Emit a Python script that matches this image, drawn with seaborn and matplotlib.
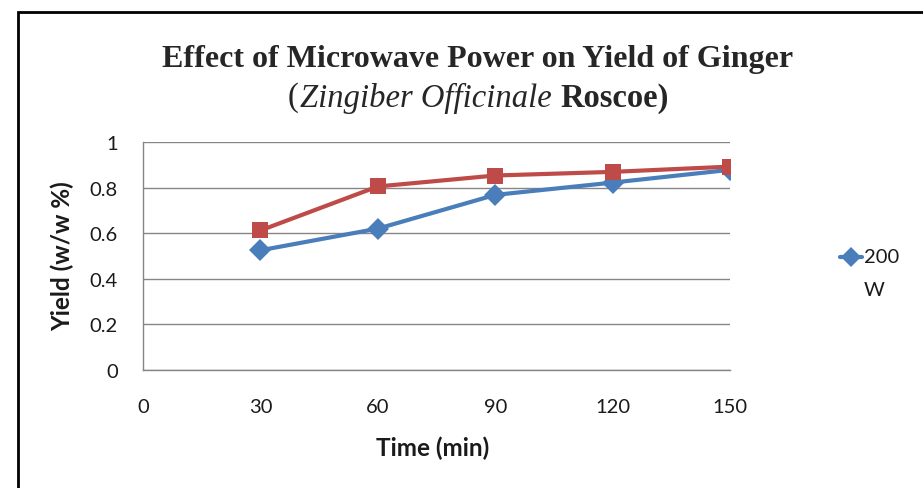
import matplotlib
matplotlib.use("Agg")
import matplotlib.pyplot as plt
import seaborn as sns
import pandas as pd
from matplotlib.patches import Rectangle
from matplotlib.lines import Line2D

# Extraction time (min) and yield (w/w %) for two microwave power levels
time_min = [30, 60, 90, 120, 150]
yield_200w = [0.525, 0.620, 0.768, 0.822, 0.878]
yield_300w = [0.612, 0.805, 0.853, 0.869, 0.892]
series_names = ["200 W", "300 W"]
x_ticks = [0, 30, 60, 90, 120, 150]
y_ticks = [0, 0.2, 0.4, 0.6, 0.8, 1.0]
y_tick_labels = ["0", "0.2", "0.4", "0.6", "0.8", "1"]

df = pd.DataFrame({
    "Time": time_min * 2,
    "Yield": yield_200w + yield_300w,
    "Power": [series_names[0]] * len(time_min) + [series_names[1]] * len(time_min),
})

sns.set_theme(style="white")
plt.rcParams["font.family"] = ["Lato", "DejaVu Sans"]

W, H = 923, 489
fig = plt.figure(figsize=(W / 100, H / 100), dpi=100)
ax = fig.add_axes([143 / W, 1 - 371 / H, (730 - 143) / W, (371 - 143) / H])

blue = "#4A7EBB"
red = "#BE4B48"
sns.lineplot(data=df, x="Time", y="Yield", hue="Power", style="Power",
             palette=[blue, red], markers=["D", "s"], dashes=False,
             markersize=11, linewidth=3, markeredgewidth=0, ax=ax, legend=False)

ax.set_xlim(0, 150)
ax.set_ylim(0, 1)
ax.set_xticks(x_ticks)
ax.set_xticklabels([str(t) for t in x_ticks])
ax.set_yticks(y_ticks)
ax.set_yticklabels(y_tick_labels)
ax.tick_params(axis="both", labelsize=14.5, colors="#1a1a1a", length=0)
ax.tick_params(axis="x", pad=20)
ax.tick_params(axis="y", pad=18)
ax.yaxis.grid(True, color="#868686", linewidth=1)
ax.xaxis.grid(False)
for side in ["top", "right"]:
    ax.spines[side].set_visible(False)
for side in ["left", "bottom"]:
    ax.spines[side].set_color("#868686")
    ax.spines[side].set_linewidth(1)

ax.set_xlabel("")
ax.set_ylabel("")
fig.text(433 / W, 1 - 448 / H, "Time (min)", ha="center", va="center",
         fontsize=17.5, fontweight="bold", color="#1a1a1a")
fig.text(62 / W, 1 - 256 / H, "Yield (w/w %)", ha="center", va="center",
         rotation=90, fontsize=17.5, fontweight="bold", color="#1a1a1a")

# Chart title, with the botanical name in italics
serif = ["Liberation Serif", "DejaVu Serif"]
fig.text(478 / W, 1 - 60 / H, "Effect of Microwave Power on Yield of Ginger",
         ha="center", va="center", fontsize=23, fontweight="bold", family=serif)

renderer = fig.canvas.get_renderer()
parts = [("(", "normal", "normal"),
         ("Zingiber Officinale", "italic", "normal"),
         ("Roscoe)", "normal", "bold")]
gaps = [2, 8, 0]
pieces = []
for text, style, weight in parts:
    t = fig.text(0, 1 - 98 / H, text, ha="left", va="center", fontsize=23.5,
                 fontstyle=style, fontweight=weight, family=serif)
    pieces.append(t)
widths = [p.get_window_extent(renderer).width for p in pieces]
total = sum(widths) + sum(gaps)
x = 478 - total / 2
for p, w, g in zip(pieces, widths, gaps):
    p.set_x(x / W)
    x += w + g

# Legend entry for the 200 W series
fig.add_artist(Line2D([840 / W, 862 / W], [1 - 258 / H] * 2, transform=fig.transFigure,
                      color=blue, linewidth=3))
fig.add_artist(Line2D([851 / W], [1 - 258 / H], transform=fig.transFigure,
                      color=blue, marker="D", markersize=10, markeredgewidth=0))
fig.text(864 / W, 1 - 258 / H, "200", ha="left", va="center", fontsize=14.5,
         color="#1a1a1a")
fig.text(864 / W, 1 - 290 / H, "W", ha="left", va="center", fontsize=14.5,
         color="#1a1a1a")

# Outer chart frame
fig.patches.append(Rectangle((18 / W, -0.1), 1.2, 1.1 - 13 / H,
                             transform=fig.transFigure, fill=False,
                             edgecolor="black", linewidth=2))

fig.savefig("out.png", dpi=100)
